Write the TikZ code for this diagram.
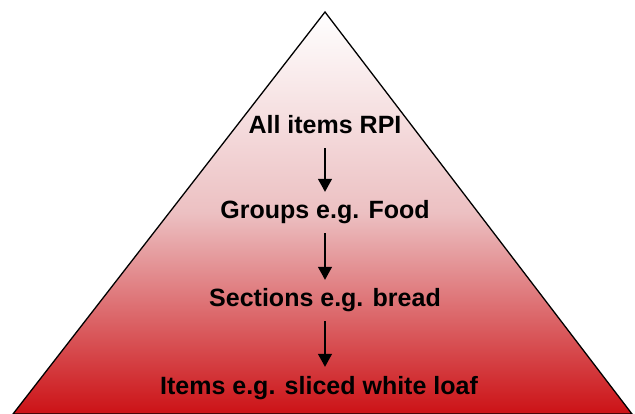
\documentclass[tikz,border=0pt]{standalone}
\usepackage{fontspec}
\setmainfont{Liberation Sans}
\usepackage{xcolor}
\usepackage{tikz}
\usetikzlibrary{arrows.meta, positioning}
\definecolor{pyrtop}{RGB}{255,255,255}
\definecolor{pyrmid}{RGB}{236,192,194}
\definecolor{pyrbot}{RGB}{204,18,22}
\definecolor{mydark}{RGB}{0,0,0}
\tikzset{
  level/.style={font=\fontsize{25}{27}\selectfont\bfseries, text=mydark,
    text height=18pt, text depth=5pt, inner xsep=2pt, inner ysep=9pt},
  arrow/.style={-{Triangle[width=14pt,length=13pt]}, line width=1.3pt, color=mydark},
  pyramid/.style={draw=mydark, line width=1.3pt, top color=pyrtop,
    bottom color=pyrbot, middle color=pyrmid}
}

\begin{document}
\begin{tikzpicture}[x=1pt, y=-1pt]
  \useasboundingbox (0,0) rectangle (635,414);
  \clip (0,0) rectangle (635,414);

  % --- Pyramid ---
  \coordinate (apex) at (325,12);
  \coordinate (bl) at (13,414);
  \coordinate (br) at (632,414);
  \path[pyramid] (apex) -- (br) -- (bl) -- cycle;

  % --- Levels ---
  \node[level] (rpi) at (325,127.5) {All items RPI};
  \node[level] (groups) at (325,212.5) {Groups e.g. Food};
  \node[level] (sections) at (325,300.5) {Sections e.g. bread};
  \node[level] (items) at (319,387.5) {Items e.g. sliced white loaf};

  \draw[arrow] (rpi) -- (groups);
  \draw[arrow] (groups) -- (sections);
  \draw[arrow] (sections) -- (items.north -| sections);
\end{tikzpicture}
\end{document}
